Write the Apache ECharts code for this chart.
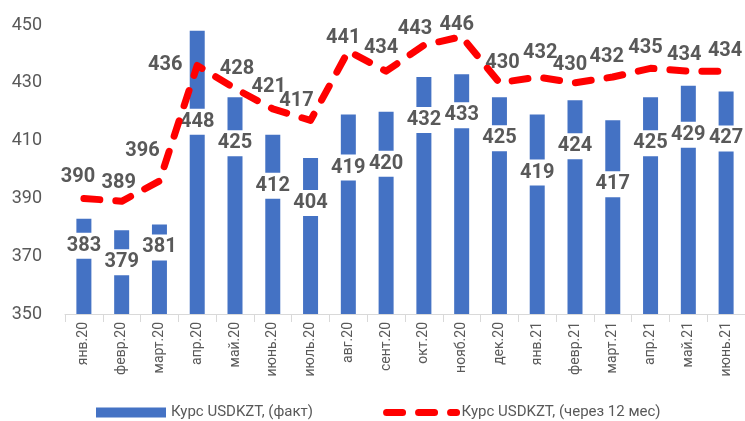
<!DOCTYPE html>
<html>
<head>
<meta charset="utf-8">
<script src="https://cdn.jsdelivr.net/npm/echarts@6/dist/echarts.min.js"></script>
<style>html,body{margin:0;padding:0;background:#fff}#c{width:745px;height:421px}</style>
</head>
<body>
<div id="c"></div>
<script>
var categories = ['янв.20','февр.20','март.20','апр.20','май.20','июнь.20','июль.20','авг.20','сент.20','окт.20','нояб.20','дек.20','янв.21','февр.21','март.21','апр.21','май.21','июнь.21'];
var factValues = [383,379,381,448,425,412,404,419,420,432,433,425,419,424,417,425,429,427];
var forecastValues = [390,389,396,436,428,421,417,441,434,443,446,430,432,430,432,435,434,434];
var seriesNames = ['Курс USDKZT, (факт)', 'Курс USDKZT, (через 12 мес)'];
var yTicks = {min: 350, max: 450, interval: 20};

// label placement styles (pixel offsets), kept separate from data
var barLabelOffsetY = [14,19,10,78,33,38,32,40,39,30,28,28,45,33,51,33,36,34];
var lineLabelOffset = [[-6,-11],[-3,-8],[-17,-20],[-32,10],[2,-10],[-4,-12],[-14,-9],[-5,-3],[-5,-13],[-9,-6],[-5,-2],[3,-10],[3,-14],[-5,-8],[-6,-10],[-5,-10],[-4,-6],[-1,-10]];

var labelFont = {fontFamily: 'Roboto', fontWeight: 'bold', fontSize: 20, color: '#595959'};
var redDash = {color: '#FF0000', width: 7, type: [16, 16], cap: 'round', join: 'round'};

var barData = factValues.map(function (v, i) {
  return {value: v, label: {offset: [0, barLabelOffsetY[i]]}};
});
var lineData = forecastValues.map(function (v, i) {
  return {value: v, label: {offset: lineLabelOffset[i]}};
});

var chart = echarts.init(document.getElementById('c'), null, {renderer: 'canvas'});
chart.setOption({
  animation: false,
  backgroundColor: '#ffffff',
  grid: {left: 65, right: 0, top: 25, bottom: 107},
  legend: {
    left: 91, top: 400,
    itemWidth: 70, itemHeight: 10, itemGap: 70,
    textStyle: {fontFamily: 'Roboto', fontSize: 15, color: '#595959'},
    data: [
      {name: seriesNames[0], icon: 'rect'},
      {name: seriesNames[1], itemStyle: {opacity: 0}, lineStyle: redDash}
    ]
  },
  xAxis: {
    type: 'category',
    data: categories,
    boundaryGap: true,
    axisLine: {lineStyle: {color: '#d9d9d9', width: 1}},
    axisTick: {show: true, length: 8, lineStyle: {color: '#d9d9d9'}},
    axisLabel: {rotate: 90, interval: 0, margin: 8, fontFamily: 'Roboto', fontSize: 14, color: '#595959'}
  },
  yAxis: {
    type: 'value',
    min: yTicks.min, max: yTicks.max, interval: yTicks.interval,
    axisLine: {show: false},
    axisTick: {show: false},
    splitLine: {show: false},
    axisLabel: {margin: 23, fontFamily: 'Roboto', fontSize: 18, color: '#595959'}
  },
  series: [
    {
      name: seriesNames[0],
      type: 'bar',
      data: barData,
      barWidth: 15,
      itemStyle: {color: '#4472C4'},
      z: 2,
      label: Object.assign({
        show: true, position: 'insideTop', distance: 0,
        backgroundColor: '#ffffff', padding: [3, 2, 3, 2], lineHeight: 20
      }, labelFont)
    },
    {
      name: seriesNames[1],
      type: 'line',
      data: lineData,
      symbol: 'circle', symbolSize: 0.1,
      showSymbol: true,
      itemStyle: {color: '#FF0000'},
      lineStyle: redDash,
      z: 3,
      label: Object.assign({
        show: true, position: 'top', distance: 0, lineHeight: 20
      }, labelFont)
    }
  ]
});
</script>
</body>
</html>
